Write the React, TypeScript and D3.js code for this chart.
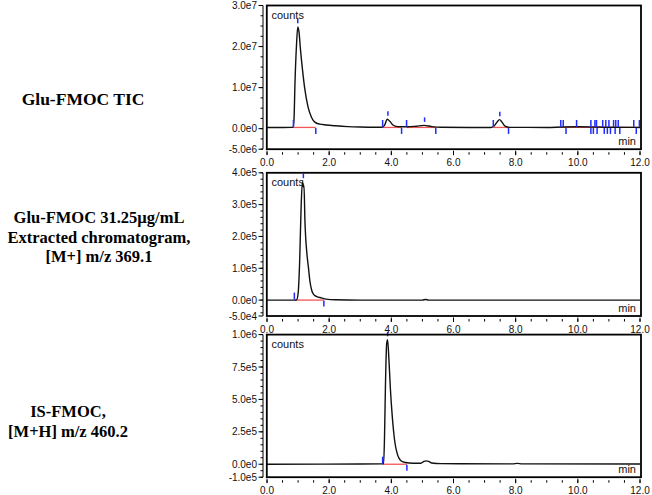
import React from "react";
import * as d3 from "d3";

// ---------- DATA ----------
const xTicks = [0, 2, 4, 6, 8, 10, 12];
const xTickLabels = ["0.0", "2.0", "4.0", "6.0", "8.0", "10.0", "12.0"];

// Panel 1: Glu-FMOC TIC
const ticTime = [0, 0.5, 0.8, 0.84, 0.87, 0.9, 0.95, 0.99, 1.03, 1.08, 1.14, 1.21, 1.32, 1.43, 1.54, 1.7, 1.9, 2.2, 2.6, 3.0, 3.5, 3.7, 3.78, 3.87, 3.95, 4.05, 4.2, 4.5, 4.8, 5.05, 5.3, 5.6, 6.5, 7.2, 7.3, 7.4, 7.48, 7.56, 7.66, 7.8, 9.0, 9.5, 10.0, 11.0, 12.0];
const ticCounts = [3e5, 3e5, 3.2e5, 3.5e5, 2.5e6, 1.1e7, 2.05e7, 2.48e7, 2.35e7, 1.9e7, 1.45e7, 1.0e7, 5.3e6, 2.8e6, 1.6e6, 1.1e6, 9e5, 7e5, 5e5, 4e5, 3.5e5, 3.5e5, 8e5, 2.3e6, 1.8e6, 9e5, 5e5, 4.5e5, 6e5, 8e5, 5e5, 3.5e5, 3e5, 3e5, 6e5, 1.6e6, 2.2e6, 1.6e6, 6e5, 3.2e5, 3e5, 4e5, 4.5e5, 3.5e5, 3e5];
const ticYTicks = [3e7, 2e7, 1e7, 0, -5e6];
const ticYLabels = ["3.0e7", "2.0e7", "1.0e7", "0.0e0", "-5.0e6"];
const ticBase = 3e5;
const ticRed = [[0.85, 1.57], [3.72, 4.33], [4.49, 5.43], [7.28, 7.77], [9.45, 11.95]];
const ticUp = [0.85, 3.72, 4.49, 7.28, 9.45, 9.53, 9.96, 10.42, 10.55, 10.6, 10.8, 10.9, 11.0, 11.15, 11.22, 11.3, 11.8, 11.98];
const ticDown = [1.57, 4.33, 5.43, 7.77, 9.62, 10.42, 10.5, 10.62, 10.85, 10.95, 11.05, 11.2, 11.35, 11.88];
const ticApex = [[0.99, 2.48e7], [3.89, 2.3e6], [5.07, 8e5], [7.49, 2.2e6]];

// Panel 2: Glu-FMOC extracted chromatogram m/z 369.1
const glu2Time = [0, 0.5, 0.9, 0.95, 1.0, 1.05, 1.1, 1.14, 1.17, 1.19, 1.22, 1.28, 1.33, 1.38, 1.44, 1.5, 1.6, 1.75, 1.9, 2.2, 3.0, 5.0, 5.1, 5.2, 8.0, 12.0];
const glu2Counts = [0, 0, 0, 500, 2e4, 1.2e5, 3.0e5, 3.72e5, 3.55e5, 3.6e5, 2.5e5, 1.5e5, 1.05e5, 6e4, 3e4, 1.8e4, 1.1e4, 7e3, 3e3, 1e3, 0, 0, 2e3, 0, 0, 0];
const glu2YTicks = [4e5, 3e5, 2e5, 1e5, 0, -5e4];
const glu2YLabels = ["4.0e5", "3.0e5", "2.0e5", "1.0e5", "0.0e0", "-5.0e4"];
const glu2Red = [[0.9, 1.83]];
const glu2Up = [0.88];
const glu2Down = [1.83];
const glu2Apex = [[1.17, 3.72e5]];

// Panel 3: IS-FMOC m/z 460.2
const isTime = [0, 3.0, 3.7, 3.75, 3.78, 3.81, 3.85, 3.88, 3.92, 3.97, 4.02, 4.07, 4.12, 4.18, 4.25, 4.32, 4.45, 4.7, 4.95, 5.05, 5.12, 5.2, 5.3, 5.6, 7.9, 8.05, 8.2, 12.0];
const isCounts = [0, 2e3, 3e3, 5e3, 2e5, 6e5, 9.3e5, 9.6e5, 8.2e5, 5.8e5, 4e5, 2.6e5, 1.6e5, 9e4, 4.5e4, 2.5e4, 1.3e4, 8e3, 8e3, 2.2e4, 2.6e4, 2.2e4, 1e4, 5e3, 3e3, 7e3, 3e3, 2e3];
const isYTicks = [1e6, 7.5e5, 5e5, 2.5e5, 0, -1e5];
const isYLabels = ["1.0e6", "7.5e5", "5.0e5", "2.5e5", "0.0e0", "-1.0e5"];
const isRed = [[3.72, 4.5]];
const isUp = [3.72];
const isDown = [4.5];
const isApex = [[3.88, 9.6e5]];

const labels1 = ["Glu-FMOC TIC"];
const labels2 = ["Glu-FMOC 31.25µg/mL", "Extracted chromatogram,", "[M+] m/z 369.1"];
const labels3 = ["IS-FMOC,", "[M+H] m/z 460.2"];

// ---------- LAYOUT ----------
const W = 652, H = 495;
const BOX_L = 266.8, BOX_R = 641;
const x = d3.scaleLinear().domain([0, 12]).range([267, 640]);
const minorX = d3.range(0, 12.01, 0.5);

type Panel = {
  top: number; bottom: number; domain: [number, number];
  time: number[]; counts: number[]; yTicks: number[]; yLabels: string[]; minorStep: number;
  base: number; red: number[][]; up: number[]; down: number[]; apex: number[][];
};

const panels: Panel[] = [
  { top: 5.5, bottom: 149.2, domain: [-5e6, 3e7], time: ticTime, counts: ticCounts, yTicks: ticYTicks, yLabels: ticYLabels, minorStep: 2.5e6, base: ticBase, red: ticRed, up: ticUp, down: ticDown, apex: ticApex },
  { top: 172.8, bottom: 316, domain: [-5e4, 4e5], time: glu2Time, counts: glu2Counts, yTicks: glu2YTicks, yLabels: glu2YLabels, minorStep: 2e4, base: 0, red: glu2Red, up: glu2Up, down: glu2Down, apex: glu2Apex },
  { top: 334.6, bottom: 477.2, domain: [-1e5, 1e6], time: isTime, counts: isCounts, yTicks: isYTicks, yLabels: isYLabels, minorStep: 5e4, base: 0, red: isRed, up: isUp, down: isDown, apex: isApex },
];

const SANS = "'Liberation Sans', Arial, sans-serif";
const SERIF = "'Liberation Serif', 'Times New Roman', serif";
const BLUE = "#1f2bff";
const RED = "#f25555";

function PanelView({ p }: { p: Panel }) {
  const y = d3.scaleLinear().domain(p.domain).range([p.bottom, p.top]);
  const pts: [number, number][] = p.time.map((t, i) => [t, p.counts[i]]);
  const line = d3.line<[number, number]>().x(d => x(d[0])).y(d => y(d[1])).curve(d3.curveMonotoneX);
  const minorY: number[] = [];
  for (let v = Math.ceil(p.domain[0] / p.minorStep) * p.minorStep; v <= p.domain[1] + 1e-6; v += p.minorStep) minorY.push(v);
  const by = y(p.base);
  const axisX = 263;
  return (
    <g>
      <line x1={axisX} x2={axisX} y1={p.top} y2={p.bottom} stroke="#000" strokeWidth={1} />
      {minorY.map((v, i) => (
        <line key={"my" + i} x1={axisX - 2.5} x2={axisX} y1={y(v)} y2={y(v)} stroke="#000" strokeWidth={1} />
      ))}
      {p.yTicks.map((v, i) => (
        <g key={"yt" + i}>
          <line x1={axisX - 4.5} x2={axisX} y1={y(v)} y2={y(v)} stroke="#000" strokeWidth={1} />
          <text x={257} y={y(v)} dy="0.35em" textAnchor="end" fontSize={10} fontFamily={SANS} fill="#111">{p.yLabels[i]}</text>
        </g>
      ))}
      {minorX.map((v, i) => (
        <line key={"mx" + i} x1={x(v)} x2={x(v)} y1={p.bottom + 3} y2={p.bottom + 5.5} stroke="#000" strokeWidth={1} />
      ))}
      {xTicks.map((v, i) => (
        <g key={"xt" + i}>
          <line x1={x(v)} x2={x(v)} y1={p.bottom + 1.5} y2={p.bottom + 6} stroke="#000" strokeWidth={1} />
          <text x={x(v)} y={p.bottom + 13} dy="0.35em" textAnchor="middle" fontSize={10} fontFamily={SANS} fill="#111">{xTickLabels[i]}</text>
        </g>
      ))}
      {p.red.map((s, i) => (
        <line key={"r" + i} x1={x(s[0])} x2={x(s[1])} y1={by} y2={by} stroke={RED} strokeWidth={1.3} />
      ))}
      <path d={line(pts) || ""} fill="none" stroke="#111" strokeWidth={1.4} strokeLinejoin="round" />
      {p.up.map((t, i) => (
        <line key={"u" + i} x1={x(t)} x2={x(t)} y1={by - 7.5} y2={by - 0.5} stroke={BLUE} strokeWidth={1.5} />
      ))}
      {p.down.map((t, i) => (
        <line key={"d" + i} x1={x(t)} x2={x(t)} y1={by + 0.5} y2={by + 6.5} stroke={BLUE} strokeWidth={1.5} />
      ))}
      {p.apex.map((a, i) => (
        <line key={"a" + i} x1={x(a[0])} x2={x(a[0])} y1={y(a[1]) - 8} y2={y(a[1]) - 3.5} stroke={BLUE} strokeWidth={1.5} />
      ))}
      <rect x={BOX_L} y={p.top} width={BOX_R - BOX_L} height={p.bottom - p.top} fill="none" stroke="#000" strokeWidth={1.8} />
      <text x={271.5} y={p.top + 9.5} dy="0.35em" fontSize={11} fontFamily={SANS} fill="#111">counts</text>
      <text x={636} y={p.bottom - 8} dy="0.35em" textAnchor="end" fontSize={11} fontFamily={SANS} fill="#111">min</text>
    </g>
  );
}

function Labels({ lines, cx, cy, gap, size }: { lines: string[]; cx: number; cy: number; gap: number; size: number }) {
  return (
    <g>
      {lines.map((s, i) => (
        <text key={i} x={cx} y={cy + i * gap} dy="0.35em" textAnchor="middle" fontSize={size} fontWeight="bold" fontFamily={SERIF} fill="#000">{s}</text>
      ))}
    </g>
  );
}

export default function App() {
  return (
    <svg width={W} height={H} viewBox={`0 0 ${W} ${H}`} style={{ position: "absolute", left: 0, top: 0, background: "#fff" }}>
      <rect x={0} y={0} width={W} height={H} fill="#fff" />
      {panels.map((p, i) => <PanelView key={i} p={p} />)}
      <Labels lines={labels1} cx={83} cy={98.5} gap={19} size={17.5} />
      <Labels lines={labels2} cx={99} cy={217.5} gap={19.3} size={16.5} />
      <Labels lines={labels3} cx={68} cy={411.5} gap={20} size={16.5} />
    </svg>
  );
}
